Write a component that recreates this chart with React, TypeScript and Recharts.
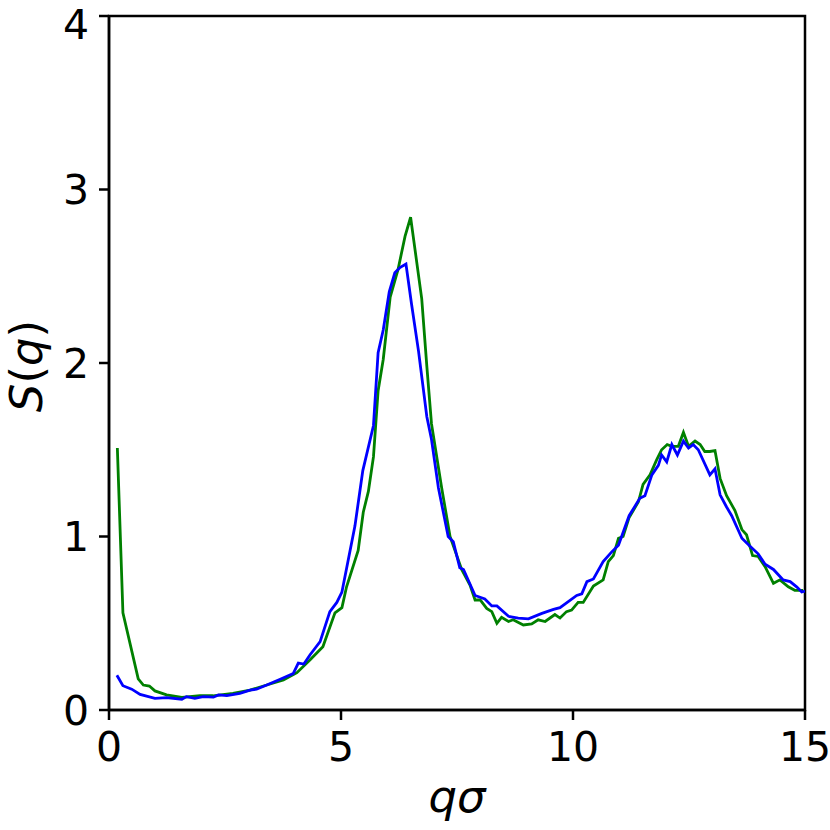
import { LineChart, Line, XAxis, YAxis, ReferenceArea } from "recharts"

// q sigma positions / S(q) values
const greenQ = [
  0.18, 0.3, 0.63, 0.74, 0.87, 0.99, 1.24, 1.57, 1.96, 2.24, 2.67, 3.04, 3.4, 3.76, 4.05,
  4.33, 4.61, 4.87, 5.02, 5.12, 5.37, 5.48, 5.59, 5.7, 5.8, 5.91, 6.06, 6.23, 6.38, 6.5,
  6.74, 6.85, 6.95, 7.17, 7.35, 7.6, 7.78, 7.89, 8.0, 8.14, 8.25, 8.36, 8.46, 8.61, 8.71,
  8.93, 9.11, 9.25, 9.4, 9.61, 9.72, 9.86, 9.97, 10.11, 10.22, 10.44, 10.65, 10.76, 10.87,
  10.98, 11.08, 11.21, 11.41, 11.51, 11.66, 11.8, 11.91, 12.03, 12.13, 12.27, 12.38, 12.49,
  12.63, 12.74, 12.84, 12.95, 13.06, 13.17, 13.31, 13.49, 13.64, 13.74, 13.87, 13.99, 14.14,
  14.32, 14.46, 14.64, 14.78, 14.96,
]
const greenS = [
  1.51, 0.56, 0.18, 0.144, 0.138, 0.11, 0.087, 0.073, 0.082, 0.082, 0.096, 0.115, 0.144,
  0.173, 0.215, 0.288, 0.365, 0.56, 0.59, 0.71, 0.92, 1.14, 1.26, 1.46, 1.84, 2.02, 2.38,
  2.54, 2.73, 2.84, 2.37, 1.98, 1.65, 1.28, 1.0, 0.81, 0.72, 0.634, 0.634, 0.586, 0.567,
  0.5, 0.534, 0.51, 0.52, 0.49, 0.496, 0.52, 0.51, 0.55, 0.53, 0.567, 0.576, 0.62, 0.62,
  0.715, 0.75, 0.855, 0.89, 0.99, 1.0, 1.11, 1.2, 1.3, 1.355, 1.44, 1.5, 1.53, 1.52, 1.52,
  1.6, 1.52, 1.55, 1.53, 1.49, 1.49, 1.495, 1.335, 1.235, 1.15, 1.04, 1.01, 0.89, 0.885,
  0.826, 0.73, 0.75, 0.71, 0.69, 0.69,
]

const blueQ = [
  0.17, 0.3, 0.49, 0.67, 0.99, 1.24, 1.57, 1.67, 1.85, 2.03, 2.25, 2.36, 2.54, 2.82, 3.04,
  3.18, 3.4, 3.69, 3.97, 4.08, 4.2, 4.33, 4.55, 4.76, 4.91, 5.02, 5.3, 5.47, 5.7, 5.8, 5.91,
  6.04, 6.16, 6.27, 6.4, 6.52, 6.67, 6.85, 6.95, 7.1, 7.31, 7.42, 7.56, 7.64, 7.89, 8.1,
  8.25, 8.36, 8.61, 8.82, 9.04, 9.33, 9.58, 9.72, 10.08, 10.19, 10.3, 10.44, 10.65, 10.83,
  10.98, 11.21, 11.44, 11.55, 11.7, 11.84, 11.91, 12.02, 12.13, 12.25, 12.38, 12.49, 12.59,
  12.7, 12.95, 13.06, 13.17, 13.31, 13.42, 13.64, 13.81, 13.99, 14.14, 14.32, 14.53, 14.68,
  14.82, 14.93, 15.0,
]
const blueS = [
  0.2, 0.14, 0.12, 0.09, 0.067, 0.071, 0.062, 0.077, 0.067, 0.077, 0.074, 0.087, 0.083,
  0.096, 0.115, 0.12, 0.144, 0.177, 0.21, 0.27, 0.265, 0.317, 0.394, 0.567, 0.62, 0.68,
  1.06, 1.38, 1.64, 2.06, 2.19, 2.41, 2.52, 2.55, 2.57, 2.34, 2.07, 1.69, 1.56, 1.28, 1.0,
  0.97, 0.82, 0.81, 0.66, 0.64, 0.6, 0.6, 0.54, 0.53, 0.525, 0.557, 0.58, 0.59, 0.66, 0.67,
  0.74, 0.755, 0.855, 0.91, 0.95, 1.12, 1.22, 1.235, 1.355, 1.41, 1.47, 1.43, 1.53, 1.47,
  1.55, 1.51, 1.53, 1.5, 1.355, 1.39, 1.24, 1.17, 1.12, 0.99, 0.945, 0.9, 0.84, 0.81, 0.75,
  0.74, 0.71, 0.68, 0.685,
]

const xTicks = [0, 5, 10, 15]
const yTicks = [0, 1, 2, 3, 4]

const greenData = greenQ.map((q, i) => ({ q, s: greenS[i] }))
const blueData = blueQ.map((q, i) => ({ q, s: blueS[i] }))

const FONT = "'DejaVu Sans', sans-serif"
const axisStroke = { stroke: "#000", strokeWidth: 2.5 }
const tickStyle = { fontSize: 41, fontFamily: FONT, fill: "#000" }

function YLabel() {
  return (
    <text
      x={42}
      y={366}
      transform="rotate(-90 42 366)"
      textAnchor="middle"
      fontFamily={FONT}
      fontSize={45}
      fill="#000"
    >
      <tspan fontStyle="italic">S</tspan>(<tspan fontStyle="italic">q</tspan>)
    </text>
  )
}

function XLabel() {
  return (
    <text
      x={457}
      y={812}
      textAnchor="middle"
      fontFamily={FONT}
      fontSize={45}
      fontStyle="italic"
      fill="#000"
    >
      qσ
    </text>
  )
}

export default function App() {
  return (
    <div style={{ position: "absolute", left: 0, top: 0, background: "#fff" }}>
      <LineChart
        width={830}
        height={830}
        margin={{ top: 16, right: 25, left: 0, bottom: 0 }}
      >
        <XAxis
          dataKey="q"
          type="number"
          domain={[0, 15]}
          ticks={xTicks}
          allowDataOverflow
          height={120}
          tick={tickStyle}
          tickSize={10}
          tickMargin={12}
          tickLine={axisStroke}
          axisLine={axisStroke}
          label={<XLabel />}
        />
        <YAxis
          type="number"
          domain={[0, 4]}
          ticks={yTicks}
          allowDataOverflow
          width={109}
          tick={tickStyle}
          tickSize={10}
          tickMargin={10}
          tickLine={axisStroke}
          axisLine={axisStroke}
          label={<YLabel />}
        />
        {/* frame: top and right spines */}
        <ReferenceArea
          x1={0}
          x2={15}
          y1={0}
          y2={4}
          fill="none"
          fillOpacity={0}
          stroke="#000"
          strokeWidth={2.5}
          strokeOpacity={1}
          ifOverflow="visible"
        />
        <Line
          data={greenData}
          dataKey="s"
          type="linear"
          stroke="#008000"
          strokeWidth={2.8}
          dot={false}
          isAnimationActive={false}
        />
        <Line
          data={blueData}
          dataKey="s"
          type="linear"
          stroke="#0000ff"
          strokeWidth={2.8}
          dot={false}
          isAnimationActive={false}
        />
      </LineChart>
    </div>
  )
}
